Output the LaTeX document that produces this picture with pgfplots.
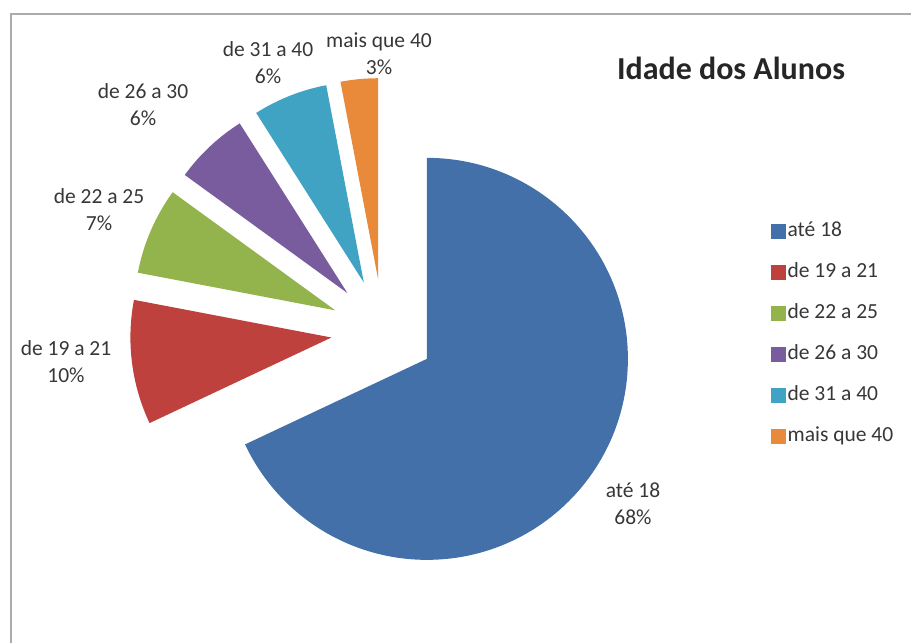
\documentclass[border=0pt]{standalone}
\usepackage{pgfplots}
\usepackage{pgfplotstable}
\pgfplotsset{compat=1.18}
\usepackage{fontspec}
\setmainfont{Carlito}

\definecolor{col0}{RGB}{67,112,168}
\definecolor{col1}{RGB}{190,65,62}
\definecolor{col2}{RGB}{147,180,76}
\definecolor{col3}{RGB}{120,92,158}
\definecolor{col4}{RGB}{64,163,196}
\definecolor{col5}{RGB}{233,138,58}
\definecolor{labgray}{RGB}{55,55,55}

\pgfplotstableread[col sep=comma,row sep=\\]{
label,pct\\
até 18,68\\
de 19 a 21,10\\
de 22 a 25,7\\
de 26 a 30,6\\
de 31 a 40,6\\
mais que 40,3\\
}\agedata

% pie geometry (axis units = pt)
\def\cx{383}\def\cy{312}\def\rad{201}\def\expl{52}

\pgfmathsetmacro\cum{0}
\pgfplotsforeachungrouped \i in {0,...,5}{%
  \pgfplotstablegetelem{\i}{pct}\of\agedata
  \let\p\pgfplotsretval
  \pgfmathsetmacro\sA{90-\cum*3.6}%
  \pgfmathsetmacro\eA{90-(\cum+\p)*3.6}%
  \pgfmathsetmacro\mA{(\sA+\eA)/2}%
  \pgfmathsetmacro\ax{\cx+\expl*cos(\mA)}%
  \pgfmathsetmacro\ay{\cy+\expl*sin(\mA)}%
  \expandafter\xdef\csname sA\i\endcsname{\sA}%
  \expandafter\xdef\csname eA\i\endcsname{\eA}%
  \expandafter\xdef\csname ax\i\endcsname{\ax}%
  \expandafter\xdef\csname ay\i\endcsname{\ay}%
  \pgfmathsetmacro\cum{\cum+\p}%
  \global\let\cum\cum
}

\begin{document}
\begin{tikzpicture}
\begin{axis}[
  x=1pt, y=1pt,
  xmin=0, xmax=912, ymin=0, ymax=643,
  hide axis, clip=false,
  legend style={draw=none, fill=none, at={(axis cs:771,424)}, anchor=north west,
    font=\fontsize{21.5}{24}\selectfont, text=labgray,
    row sep=17pt, inner sep=0pt,
    nodes={inner sep=2pt, text height=15pt, text depth=5pt}},
  legend cell align=left,
]
\path (axis cs:0,0) rectangle (axis cs:912,643);
\draw[gray!65, line width=2pt] (axis cs:11,0) -- (axis cs:11,629) -- (axis cs:911,629);

\pgfplotsinvokeforeach{0,...,5}{%
  \fill[col#1] (axis cs:\csname ax#1\endcsname,\csname ay#1\endcsname)
     -- ++(\csname sA#1\endcsname:\rad pt)
     arc[start angle=\csname sA#1\endcsname, end angle=\csname eA#1\endcsname, radius=\rad pt]
     -- cycle;
}

\addlegendimage{legend image code/.code={\fill[col0] (0pt,-7pt) rectangle (14pt,7pt);}}
\addlegendentry{até 18}
\addlegendimage{legend image code/.code={\fill[col1] (0pt,-7pt) rectangle (14pt,7pt);}}
\addlegendentry{de 19 a 21}
\addlegendimage{legend image code/.code={\fill[col2] (0pt,-7pt) rectangle (14pt,7pt);}}
\addlegendentry{de 22 a 25}
\addlegendimage{legend image code/.code={\fill[col3] (0pt,-7pt) rectangle (14pt,7pt);}}
\addlegendentry{de 26 a 30}
\addlegendimage{legend image code/.code={\fill[col4] (0pt,-7pt) rectangle (14pt,7pt);}}
\addlegendentry{de 31 a 40}
\addlegendimage{legend image code/.code={\fill[col5] (0pt,-7pt) rectangle (14pt,7pt);}}
\addlegendentry{mais que 40}

\begin{scope}[every node/.style={align=center, text=labgray, font=\fontsize{21.5}{27}\selectfont}]
\node at (axis cs:633,139) {até 18\\68\%};
\node at (axis cs:66,281) {de 19 a 21\\10\%};
\node at (axis cs:99,433) {de 22 a 25\\7\%};
\node at (axis cs:143,538) {de 26 a 30\\6\%};
\node at (axis cs:268,580) {de 31 a 40\\6\%};
\node at (axis cs:379,589) {mais que 40\\3\%};
\end{scope}
\node[font=\fontsize{32}{36}\selectfont\bfseries, text=black!85] at (axis cs:731,575) {Idade dos Alunos};
\end{axis}
\end{tikzpicture}
\end{document}
